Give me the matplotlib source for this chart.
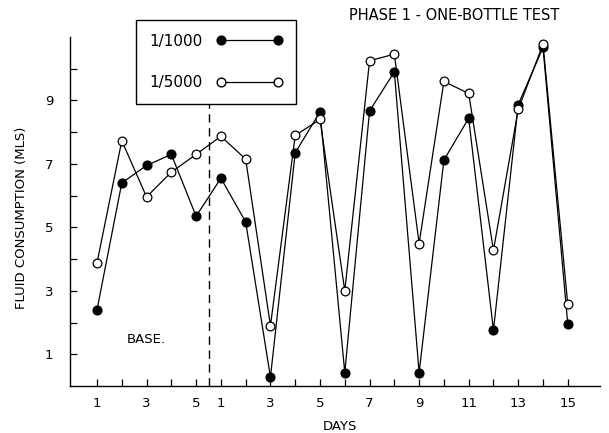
import matplotlib
matplotlib.use("Agg")
import matplotlib.pyplot as plt
from matplotlib.lines import Line2D

# Data: base days 1-5, then treatment days 1-15
base_days = [1, 2, 3, 4, 5]
test_days = list(range(1, 16))

dose_1000_base = [2.4, 6.4, 6.95, 7.3, 5.35]
dose_1000_test = [6.55, 5.17, 0.28, 7.35, 8.64, 0.42, 8.67, 9.9, 0.42, 7.12, 8.44, 1.76, 8.87, 10.67, 1.95]
dose_5000_base = [3.88, 7.73, 5.96, 6.74, 7.3]
dose_5000_test = [7.87, 7.15, 1.9, 7.9, 8.4, 3.0, 10.25, 10.46, 4.49, 9.6, 9.22, 4.28, 8.72, 10.77, 2.57]

x_labels_base = ["1", "", "3", "", "5"]
x_labels_test = [str(d) if d % 2 == 1 else "" for d in test_days]
y_ticks = list(range(1, 11))
y_labels = [str(v) if v % 2 == 1 else "" for v in y_ticks]

title = "PHASE 1 - ONE-BOTTLE TEST"
xlabel = "DAYS"
ylabel = "FLUID CONSUMPTION (MLS)"
base_text = "BASE."
legend_labels = ["1/1000", "1/5000"]

# positions on a continuous axis
n_base = len(base_days)
pos = [i + 1 for i in range(n_base + len(test_days))]
y1000 = dose_1000_base + dose_1000_test
y5000 = dose_5000_base + dose_5000_test

plt.rcParams['font.family'] = ['DejaVu Sans']
fig = plt.figure(figsize=(6.09, 4.33), dpi=100)
ax = fig.add_axes([70/609, 1-386/433, 530/609, 349/433])

ax.plot(pos, y1000, color='black', lw=0.9, marker='o', ms=6.3,
        mfc='black', mec='black', zorder=3)
ax.plot(pos, y5000, color='black', lw=0.9, marker='o', ms=6.3,
        mfc='white', mec='black', mew=0.9, zorder=4)

ax.set_xlim(-0.09, 21.3)
ax.set_ylim(0, 11)

ax.set_xticks(pos)
ax.set_xticklabels(x_labels_base + x_labels_test)
ax.set_yticks(y_ticks)
ax.set_yticklabels(y_labels)
ax.tick_params(axis='both', direction='in', length=5, width=0.9, labelsize=9.5)
ax.tick_params(axis='x', pad=8)
ax.tick_params(axis='y', pad=12)

for s in ['top', 'right']:
    ax.spines[s].set_visible(False)
for s in ['left', 'bottom']:
    ax.spines[s].set_linewidth(1.0)

ax.set_xlabel(xlabel, fontsize=9.5)
ax.xaxis.set_label_coords((340-70)/530, -(420-386)/349)
ax.set_ylabel(ylabel, fontsize=9.5)
ax.yaxis.set_label_coords(-(70-28)/530, (386-218)/349)

# dashed separator between base and test
sep = n_base + 0.52
ax.axvline(sep, ymin=0, ymax=0.811, color='black', lw=1.0, ls=(0, (6, 4)))

ax.text(2.2, 1.48, base_text, fontsize=9.5, ha='left', va='center')
fig.text(454/609, 1-15/433, title, fontsize=10.5, ha='center', va='center')

handles = [
    Line2D([0], [0], color='black', lw=0.9, marker='o', ms=6.3, mfc='black', mec='black'),
    Line2D([0], [0], color='black', lw=0.9, marker='o', ms=6.3, mfc='white', mec='black'),
]
leg = ax.legend(handles, legend_labels, loc='upper left',
                bbox_to_anchor=((136-70)/530, (386-20)/349),
                numpoints=2, markerfirst=False, frameon=True, fancybox=False,
                edgecolor='black', fontsize=11, handlelength=4.3,
                handletextpad=0.9, labelspacing=1.75, borderpad=0.9,
                borderaxespad=0, framealpha=1)
leg.get_frame().set_linewidth(1.0)

fig.savefig("out.png", dpi=100)
